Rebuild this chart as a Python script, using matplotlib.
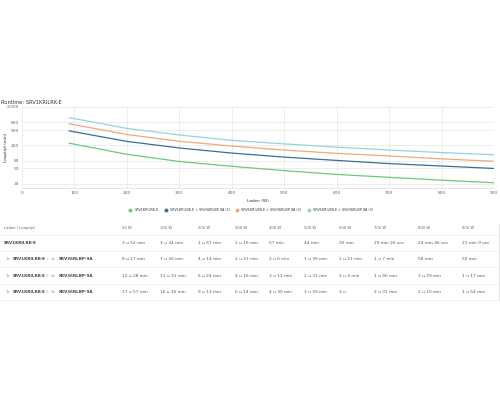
import numpy as np
import matplotlib.pyplot as plt
from matplotlib.lines import Line2D

loads = [90, 100, 200, 300, 400, 500, 600, 700, 800, 900]
base = [228, 214, 117, 76, 57, 44, 35, 29.4, 24.8, 21.2]
plus1 = [478, 450, 254, 171, 126, 99, 81, 67, 58, 50]
plus2 = [730, 691, 384, 256, 192, 151, 124, 106, 89, 77]
plus3 = [1050, 995, 553, 374, 270, 219, 180, 151, 130, 114]

series_names = ['SRV1KRILRK-E',
                'SRV1KRILRK-E + SRV36RLBP-9A (1)',
                'SRV1KRILRK-E + SRV36RLBP-9A (2)',
                'SRV1KRILRK-E + SRV36RLBP-9A (3)']
colors = ['#6cc97a', '#3c6e95', '#f2a77c', '#97d3e2']

y_ticks = [20, 50, 80, 200, 500, 800, 2000]
x_ticks = [0, 100, 200, 300, 400, 500, 600, 700, 800, 900]

# table data
col_heads = ['50 W', '100 W', '200 W', '300 W', '400 W', '500 W', '600 W', '700 W', '800 W', '900 W']
row_counts = ['', '1x', '2x', '3x']
table_rows = [
    ['3 u 52 min', '3 u 34 min', '1 u 57 min', '1 u 16 min', '57 min', '44 min', '35 min', '29 min 26 sec', '24 min 46 sec', '21 min 9 sec'],
    ['8 u 17 min', '7 u 30 min', '4 u 14 min', '2 u 51 min', '2 u 6 min', '1 u 39 min', '1 u 21 min', '1 u 7 min', '58 min', '50 min'],
    ['12 u 28 min', '11 u 31 min', '6 u 24 min', '4 u 16 min', '3 u 12 min', '2 u 31 min', '2 u 4 min', '1 u 46 min', '1 u 29 min', '1 u 17 min'],
    ['17 u 57 min', '16 u 35 min', '9 u 13 min', '6 u 14 min', '4 u 30 min', '3 u 39 min', '3 u', '2 u 31 min', '2 u 10 min', '1 u 54 min'],
]

W, H = 500, 400
fig = plt.figure(figsize=(5, 4), dpi=100)
ax = fig.add_axes([22 / W, 1 - 188 / H, 472 / W, 81 / H])

for vals, c in zip([base, plus1, plus2, plus3], colors):
    ax.plot(loads, vals, color=c, lw=0.9)

ax.set_yscale('log')
ax.set_ylim(15.5, 2000)
ax.set_xlim(0, 900)
ax.set_yticks(y_ticks)
ax.set_yticklabels(['{:,}'.format(t) for t in y_ticks])
ax.yaxis.set_minor_locator(plt.NullLocator())
ax.set_xticks(x_ticks)
ax.tick_params(labelsize=3.2, colors='#666666', length=0, pad=2)
ax.grid(True, color='#e6e6e6', lw=0.5)
for s in ['top', 'right', 'left']:
    ax.spines[s].set_visible(False)
ax.spines['bottom'].set_color('#dddddd')
ax.spines['bottom'].set_linewidth(0.5)
ax.set_xlabel('Laden (W)', fontsize=3.1, color='#333333', labelpad=3)
ax.set_ylabel('Looptijd (min)', fontsize=3.1, color='#333333')
ax.yaxis.set_label_coords(-0.03, 0.5)

fig.text(1 / W, 1 - 102 / H, 'Runtime: SRV1KRILRK-E', fontsize=3.7, color='#333333', va='center')

handles = [Line2D([], [], marker='o', ls='', color=c, markersize=1.8) for c in colors]
fig.legend(handles, series_names, loc='center', bbox_to_anchor=(250 / W, 1 - 210 / H),
           ncol=4, frameon=False, fontsize=2.4, handletextpad=0.2, columnspacing=1.2,
           labelcolor='#333333')

# table below the chart
col_x = [122, 160, 198, 235, 269, 304, 339, 374, 418, 462]
row_y = [243, 259, 276, 292]
fig.text(4 / W, 1 - 228 / H, 'Laden / Looptijd', fontsize=2.7, color='#666666', va='center')
for cx, h in zip(col_x, col_heads):
    fig.text(cx / W, 1 - 228 / H, h, fontsize=2.7, color='#666666', va='center')

for i, (cnt, ry, vals) in enumerate(zip(row_counts, row_y, table_rows)):
    if i == 0:
        fig.text(4 / W, 1 - ry / H, 'SRV1KRILRK-E', fontsize=3.0, weight='bold', color='#444444', va='center')
    else:
        fig.text(6 / W, 1 - ry / H, '1x', fontsize=2.8, color='#999999', va='center')
        fig.text(12.5 / W, 1 - ry / H, 'SRV1KRILRK-E', fontsize=3.0, weight='bold', color='#444444', va='center')
        fig.text(46 / W, 1 - ry / H, '+', fontsize=2.8, color='#999999', va='center')
        fig.text(50.5 / W, 1 - ry / H, cnt, fontsize=2.8, color='#999999', va='center')
        fig.text(59 / W, 1 - ry / H, 'SRV36RLBP-9A', fontsize=3.0, weight='bold', color='#444444', va='center')
    for cx, v in zip(col_x, vals):
        fig.text(cx / W, 1 - ry / H, v, fontsize=3.1, color='#555555', va='center')

for ly in [235, 251, 267, 284, 300]:
    fig.add_artist(Line2D([0, 499 / W], [1 - ly / H, 1 - ly / H], color='#eeeeee', lw=0.5))
fig.add_artist(Line2D([499 / W, 499 / W], [1 - 224 / H, 1 - 300 / H], color='#dddddd', lw=0.6))

fig.savefig('out.png', dpi=100)
